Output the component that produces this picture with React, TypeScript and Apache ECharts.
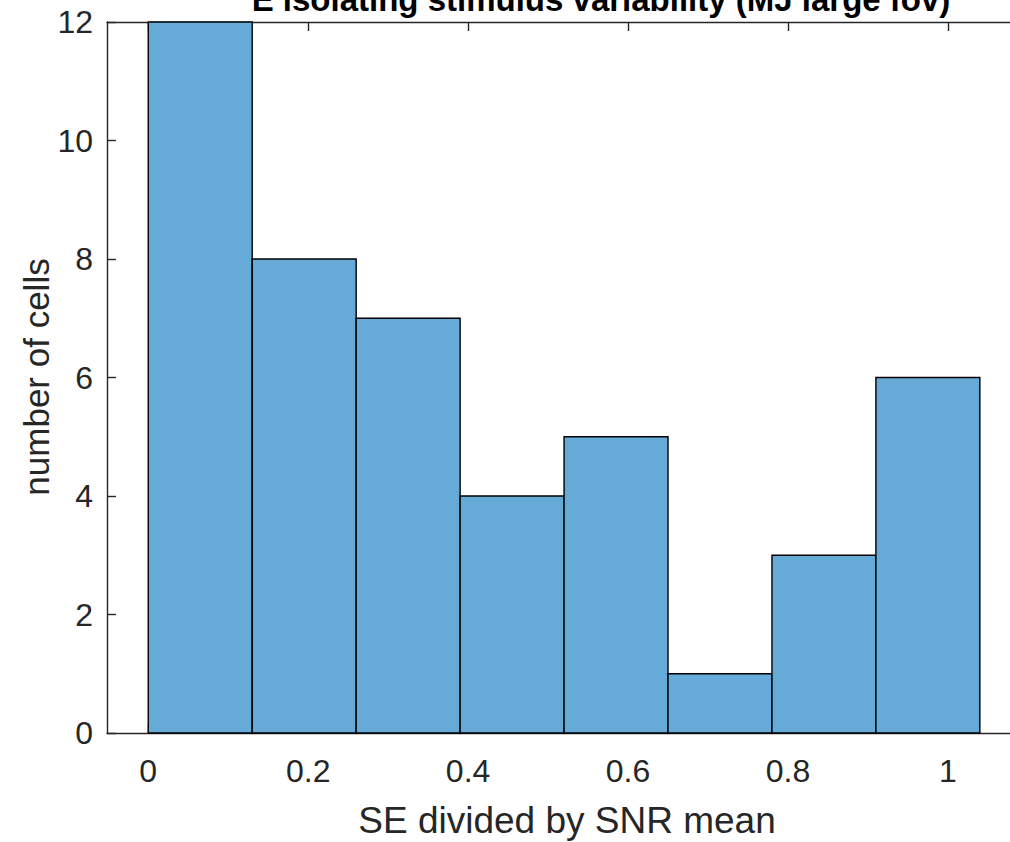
import React, { useEffect, useRef } from "react";
import * as echarts from "echarts";

const binEdges = [0, 0.13, 0.26, 0.39, 0.52, 0.65, 0.78, 0.91, 1.04];
const counts = [12, 8, 7, 4, 5, 1, 3, 6];
const xTicks = [0, 0.2, 0.4, 0.6, 0.8, 1];
const xTickLabels = ["0", "0.2", "0.4", "0.6", "0.8", "1"];
const titleText = "E isolating stimulus variability (MJ large fov)";
const xLabel = "SE divided by SNR mean";
const yLabel = "number of cells";

const AXIS_COLOR = "#262626";
const FONT = "'Liberation Sans', Arial, Helvetica, sans-serif";

export default function App() {
  const ref = useRef<HTMLDivElement>(null);
  useEffect(() => {
    if (!ref.current) return;
    const chart = echarts.init(ref.current, null, { renderer: "svg" });
    const data = counts.map((c, i) => [binEdges[i], binEdges[i + 1], c]);
    const labelFmt = (v: number) => {
      const idx = xTicks.findIndex((t) => Math.abs(t - v) < 1e-9);
      return idx >= 0 ? xTickLabels[idx] : "";
    };
    chart.setOption({
      animation: false,
      backgroundColor: "#ffffff",
      grid: {
        left: 107,
        top: 22,
        width: 915,
        height: 711,
        containLabel: false,
        outerBoundsMode: "none",
      },
      xAxis: [
        {
          type: "value",
          min: -0.0516,
          max: 1.0927,
          position: "bottom",
          axisLine: { show: true, onZero: false, lineStyle: { color: AXIS_COLOR, width: 1.4 } },
          axisTick: {
            show: true,
            inside: true,
            length: 9,
            customValues: xTicks,
            lineStyle: { color: AXIS_COLOR, width: 1.4 },
          },
          axisLabel: {
            show: true,
            customValues: xTicks,
            formatter: labelFmt,
            color: AXIS_COLOR,
            fontSize: 32,
            fontFamily: FONT,
            margin: 22,
          },
          splitLine: { show: false },
        },
        {
          type: "value",
          min: -0.0516,
          max: 1.0927,
          position: "top",
          axisLine: { show: true, onZero: false, lineStyle: { color: AXIS_COLOR, width: 1.4 } },
          axisTick: {
            show: true,
            inside: true,
            length: 9,
            customValues: xTicks,
            lineStyle: { color: AXIS_COLOR, width: 1.4 },
          },
          axisLabel: { show: false },
          splitLine: { show: false },
        },
      ],
      yAxis: [
        {
          type: "value",
          min: 0,
          max: 12,
          interval: 2,
          position: "left",
          axisLine: { show: true, onZero: false, lineStyle: { color: AXIS_COLOR, width: 1.4 } },
          axisTick: { show: true, inside: true, length: 9, lineStyle: { color: AXIS_COLOR, width: 1.4 } },
          axisLabel: { color: AXIS_COLOR, fontSize: 32, fontFamily: FONT, margin: 14 },
          splitLine: { show: false },
        },
      ],
      series: [
        {
          type: "custom",
          xAxisIndex: 0,
          yAxisIndex: 0,
          data,
          renderItem: (params: any, api: any) => {
            const x0 = api.value(0);
            const x1 = api.value(1);
            const c = api.value(2);
            const p0 = api.coord([x0, c]);
            const p1 = api.coord([x1, 0]);
            return {
              type: "rect",
              shape: { x: p0[0], y: p0[1], width: p1[0] - p0[0], height: p1[1] - p0[1] },
              style: { fill: "#66aad7", stroke: "#000000", lineWidth: 1.4 },
            };
          },
          z: 1,
        },
      ],
      graphic: [
        {
          type: "text",
          x: 601,
          y: -1,
          style: {
            text: titleText,
            font: `bold 33px ${FONT}`,
            fill: "#000000",
            align: "center",
            verticalAlign: "middle",
          },
        },
        {
          type: "text",
          x: 567,
          y: 820,
          style: {
            text: xLabel,
            font: `37px ${FONT}`,
            fill: AXIS_COLOR,
            align: "center",
            verticalAlign: "middle",
          },
        },
        {
          type: "text",
          x: 36,
          y: 377,
          rotation: Math.PI / 2,
          style: {
            text: yLabel,
            font: `35px ${FONT}`,
            fill: AXIS_COLOR,
            align: "center",
            verticalAlign: "middle",
          },
        },
      ],
    });
    return () => chart.dispose();
  }, []);
  return (
    <div
      ref={ref}
      style={{ position: "fixed", left: 0, top: 0, width: 1010, height: 842, background: "#fff" }}
    />
  );
}
